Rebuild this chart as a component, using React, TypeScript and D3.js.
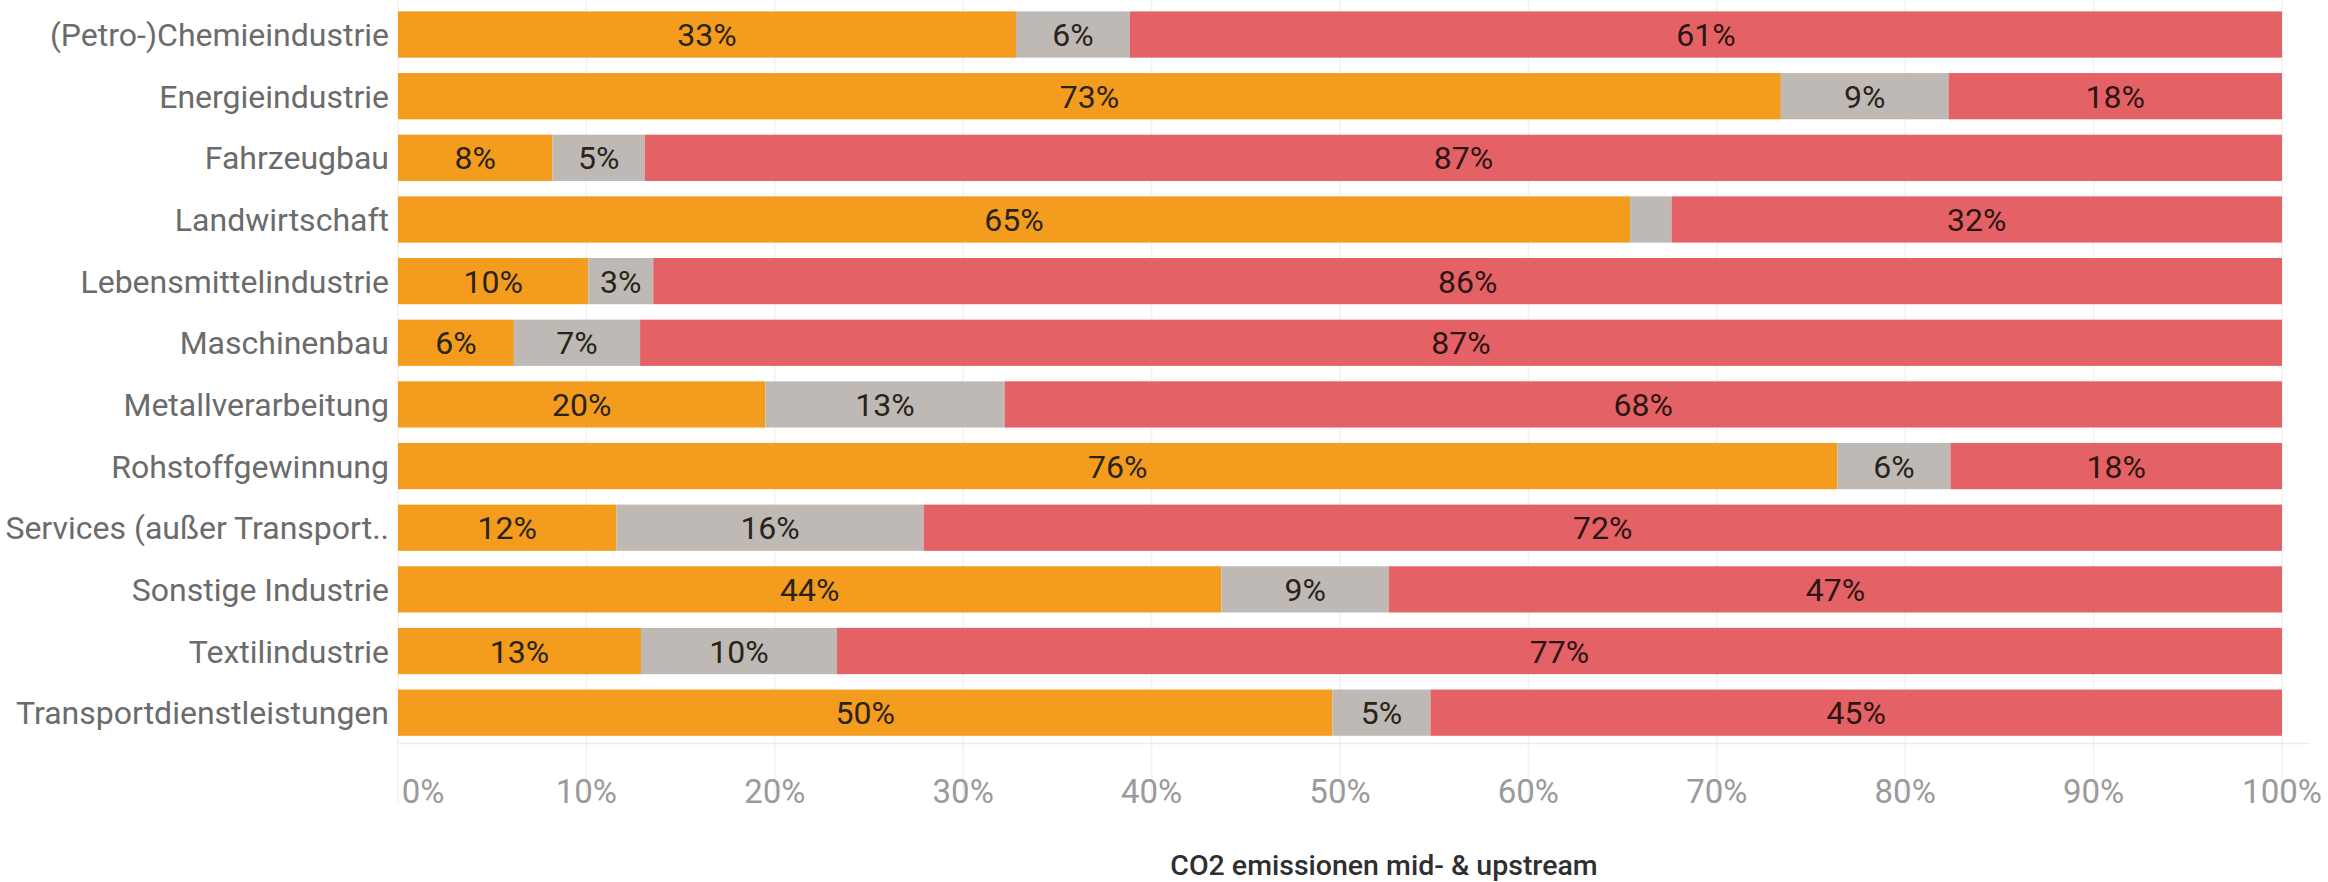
import React from "react";
import * as d3 from "d3";

// Sectors, listed top to bottom
const categories = [
  "(Petro-)Chemieindustrie",
  "Energieindustrie",
  "Fahrzeugbau",
  "Landwirtschaft",
  "Lebensmittelindustrie",
  "Maschinenbau",
  "Metallverarbeitung",
  "Rohstoffgewinnung",
  "Services (außer Transport..",
  "Sonstige Industrie",
  "Textilindustrie",
  "Transportdienstleistungen",
];

// Share of CO2 emissions per segment (fractions of 1)
const orangeShare = [0.328, 0.734, 0.082, 0.654, 0.101, 0.0615, 0.195, 0.764, 0.116, 0.437, 0.129, 0.496];
const greyShare = [0.0605, 0.089, 0.049, 0.022, 0.0345, 0.067, 0.127, 0.06, 0.163, 0.089, 0.104, 0.052];
const redShare = [0.6115, 0.177, 0.869, 0.324, 0.8645, 0.8715, 0.678, 0.176, 0.721, 0.474, 0.767, 0.452];

const xTicks = [0, 0.1, 0.2, 0.3, 0.4, 0.5, 0.6, 0.7, 0.8, 0.9, 1.0];

const seriesColors = ["#F39C1D", "#BEB9B5", "#E46265"];

const W = 2328;
const H = 882;
const FONT = "Roboto, 'Open Sans', sans-serif";

export default function App() {
  const x = d3.scaleLinear().domain([0, 1]).range([398, 2282]);
  const y = d3
    .scaleBand<string>()
    .domain(categories)
    .range([3.7, 743.5])
    .paddingInner(0.25)
    .paddingOuter(0.125);

  const rows = categories.map((c, i) => ({
    cat: c,
    orange: orangeShare[i],
    grey: greyShare[i],
    red: redShare[i],
  }));
  const stack = d3.stack<any>().keys(["orange", "grey", "red"])(rows);
  const fmt = d3.format(".0%");
  const bh = y.bandwidth();
  const plotBottom = 743.5;

  return (
    <svg
      width={W}
      height={H}
      style={{ position: "absolute", left: 0, top: 0, background: "#fff" }}
      fontFamily={FONT}
    >
      {/* vertical gridlines */}
      {xTicks.map((t) => (
        <line
          key={"g" + t}
          x1={x(t)}
          x2={x(t)}
          y1={0}
          y2={plotBottom + 60}
          stroke="#f2f2f2"
          strokeWidth={1.5}
        />
      ))}
      <line x1={398} x2={2310} y1={plotBottom} y2={plotBottom} stroke="#ececec" strokeWidth={1.5} />

      {/* stacked bars */}
      {stack.map((layer, li) =>
        layer.map((d, i) => {
          const cat = categories[i];
          const x0 = x(d[0]);
          const x1 = x(d[1]);
          const yy = y(cat)!;
          const w = x1 - x0;
          return (
            <g key={layer.key + cat}>
              <rect x={x0} y={yy} width={w} height={bh} fill={seriesColors[li]} />
              {w > 50 && (
                <text
                  x={(x0 + x1) / 2}
                  y={yy + bh / 2}
                  dy="0.36em"
                  textAnchor="middle"
                  fontSize={32}
                  fill={li === 2 ? "#2e1414" : "#2a2418"}
                >
                  {fmt(d[1] - d[0])}
                </text>
              )}
            </g>
          );
        })
      )}

      {/* category labels */}
      {categories.map((c) => (
        <text
          key={"l" + c}
          x={389}
          y={y(c)! + bh / 2}
          dy="0.36em"
          textAnchor="end"
          fontSize={32}
          fill="#6b6b6b"
        >
          {c}
        </text>
      ))}

      {/* x tick labels */}
      {xTicks.map((t, i) => (
        <text
          key={"t" + t}
          x={i === 0 ? x(t) + 25 : x(t)}
          y={803}
          textAnchor="middle"
          fontSize={33}
          fill="#9a9a9a"
        >
          {fmt(t)}
        </text>
      ))}

      {/* axis title */}
      <text x={1384} y={875} textAnchor="middle" fontSize={28.5} fill="#2f2f2f" fontWeight={500}>
        CO2 emissionen mid- &amp; upstream
      </text>
    </svg>
  );
}
